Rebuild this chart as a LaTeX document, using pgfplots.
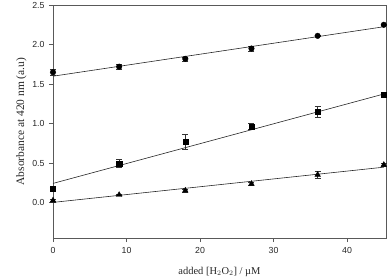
\documentclass[border=0pt]{standalone}
\usepackage{pgfplots}
\pgfplotsset{compat=1.18}
\usepackage{fontspec}
\setmainfont{Liberation Serif}
\newfontfamily\arial{Liberation Sans}
\begin{document}
\begin{tikzpicture}
\begin{axis}[
  scale only axis, width=333bp, height=233bp,
  xmin=0, xmax=45.3, ymin=-0.445, ymax=2.5,
  xtick={0,10,20,30,40}, ytick={0,0.5,1,1.5,2,2.5},
  yticklabel style={/pgf/number format/fixed,/pgf/number format/fixed zerofill,/pgf/number format/precision=1},
  /pgf/number format/assume math mode=true,
  ticklabel style={font=\arial\fontsize{8.8}{10}\selectfont, text=black!85},
  xticklabel style={yshift=-1.5bp},
  yticklabel style={xshift=-1bp},
  tick align=outside, xtick pos=bottom, ytick pos=left,
  major tick length=4bp,
  axis line style={black!65, line width=0.6pt},
  tick style={black!65, line width=0.6pt},
  xlabel={added [H$_2$O$_2$] / \textmu M},
  ylabel={Absorbance at 420 nm (a.u)},
  xlabel style={font=\fontsize{10.5}{12}\selectfont, text=black!85, yshift=-7bp},
  ylabel style={font=\fontsize{11.5}{13}\selectfont, text=black!85, yshift=-1bp},
  clip=false,
]
% circles
\addplot[only marks, mark=*, mark size=2.8bp, black,
  error bars/.cd, y dir=both, y explicit, error bar style={black!80, line width=0.5pt},
  error mark options={rotate=90, mark size=3bp, black!80, line width=0.5pt}]
  coordinates {(0,1.65) +- (0,0.04) (9,1.72) +- (0,0.03) (18,1.82) +- (0,0.025) (27,1.95) +- (0,0.03) (36,2.11) +- (0,0.01) (45,2.25) +- (0,0.01)};
\addplot[black!85, line width=0.6pt] coordinates {(0,1.60) (45,2.225)};
% squares
\addplot[only marks, mark=square*, mark size=2.6bp, black,
  error bars/.cd, y dir=both, y explicit, error bar style={black!80, line width=0.5pt},
  error mark options={rotate=90, mark size=3bp, black!80, line width=0.5pt}]
  coordinates {(0,0.18) +- (0,0.02) (9,0.495) +- (0,0.05) (18,0.77) +- (0,0.09) (27,0.965) +- (0,0.04) (36,1.155) +- (0,0.07) (45,1.365) +- (0,0.02)};
\addplot[black!85, line width=0.6pt] coordinates {(0,0.245) (45,1.375)};
% triangles
\addplot[only marks, mark=triangle*, mark size=3.2bp, black,
  error bars/.cd, y dir=both, y explicit, error bar style={black!80, line width=0.5pt},
  error mark options={rotate=90, mark size=3bp, black!80, line width=0.5pt}]
  coordinates {(0,0.03) +- (0,0.02) (9,0.10) +- (0,0.01) (18,0.155) +- (0,0.02) (27,0.24) +- (0,0.02) (36,0.355) +- (0,0.04) (45,0.48) +- (0,0.02)};
\addplot[black!85, line width=0.6pt] coordinates {(0,0.005) (45,0.45)};
\end{axis}
\pgfresetboundingbox
\useasboundingbox ([shift={(-53bp,-42bp)}]current axis.south west) rectangle ([shift={(6bp,5bp)}]current axis.north east);
\end{tikzpicture}
\end{document}
